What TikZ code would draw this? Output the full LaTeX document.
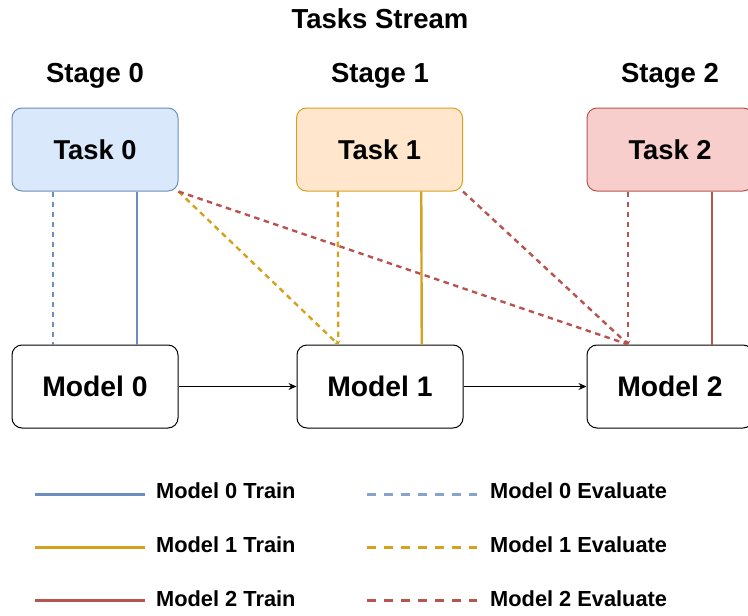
\documentclass[tikz,border=0pt]{standalone}
\usepackage{fontspec}
\setmainfont{Liberation Sans}
\usetikzlibrary{calc,arrows.meta}
\definecolor{bluefill}{HTML}{DAE8FC}
\definecolor{bluestroke}{HTML}{6C8EBF}
\definecolor{orfill}{HTML}{FFE6CC}
\definecolor{orstroke}{HTML}{D6A21E}
\definecolor{redfill}{HTML}{F8CECC}
\definecolor{redstroke}{HTML}{B85450}
\tikzset{
  box/.style={draw, rounded corners=10pt, minimum width=166pt, minimum height=83pt, line width=1pt, inner sep=0pt, font=\fontsize{27.3}{31}\selectfont\bfseries},
  title/.style={font=\fontsize{27.5}{31}\selectfont\bfseries, inner sep=0pt},
  modelbox/.style={box, fill=white, draw=black, font=\fontsize{28.3}{32}\selectfont\bfseries},
  legtext/.style={font=\fontsize{21.8}{25}\selectfont\bfseries, anchor=west, inner sep=0pt},
  train/.style={line width=2.4pt},
  evalline/.style={line width=2.4pt, dash pattern=on 5.5pt off 4.5pt},
  evalhead/.style={-{Stealth[length=4pt,width=4pt]}},
  legsolid/.style={line width=3pt},
  legdash/.style={line width=3pt, dash pattern=on 9pt off 8pt},
  flow/.style={line width=1pt, -{Stealth[length=8pt,width=7pt]}}
}
\begin{document}
\begin{tikzpicture}[x=1pt,y=-1pt]
\useasboundingbox (0,0) rectangle (748,616);
% titles
\node[title] (ts) at (380,19) {Tasks Stream};
\node[title] (s0) at (95,76) {Stage 0};
\node[title] (s1) at (380,76) {Stage 1};
\node[title] (s2) at (670,76) {Stage 2};
% tasks
\node[box, fill=bluefill, draw=bluestroke] (t0) at (95,149.5) {Task 0};
\node[box, fill=orfill, draw=orstroke] (t1) at (379.5,149.5) {Task 1};
\node[box, fill=redfill, draw=redstroke] (t2) at (670,149.5) {Task 2};
% models
\node[modelbox] (m0) at (95,386.5) {Model 0};
\node[modelbox] (m1) at (380,386.5) {Model 1};
\node[modelbox] (m2) at (670,386.5) {Model 2};
% flow arrows
\draw[flow] (m0) -- (m1);
\draw[flow] (m1) -- (m2);
% task 0
\draw[evalline, bluestroke] ($(t0.south west)!0.25!(t0.south east)$) -- ($(m0.north west)!0.25!(m0.north east)$);
\draw[train, bluestroke] ($(t0.south west)!0.75!(t0.south east)$) -- ($(m0.north west)!0.75!(m0.north east)$);
\draw[evalline, orstroke, evalhead] (t0.south east) -- ($(m1.north west)!0.25!(m1.north east)$);
\draw[evalline, redstroke, evalhead] (t0.south east) -- ($(m2.north west)!0.25!(m2.north east)$);
% task 1
\draw[evalline, orstroke, evalhead] ($(t1.south west)!0.25!(t1.south east)$) -- ($(m1.north west)!0.25!(m1.north east)$);
\draw[train, orstroke] ($(t1.south west)!0.75!(t1.south east)$) -- ($(m1.north west)!0.75!(m1.north east)$);
\draw[evalline, redstroke, evalhead] (t1.south east) -- ($(m2.north west)!0.25!(m2.north east)$);
% task 2
\draw[evalline, redstroke, evalhead] ($(t2.south west)!0.25!(t2.south east)$) -- ($(m2.north west)!0.25!(m2.north east)$);
\draw[train, redstroke] ($(t2.south west)!0.75!(t2.south east)$) -- ($(m2.north west)!0.75!(m2.north east)$);
% legend
\coordinate (a0) at (35,494); \coordinate (b0) at (145,494);
\coordinate (a1) at (35,547); \coordinate (b1) at (145,547);
\coordinate (a2) at (35,600); \coordinate (b2) at (145,600);
\coordinate (c0) at (367,494); \coordinate (d0) at (477,494);
\coordinate (c1) at (367,547); \coordinate (d1) at (477,547);
\coordinate (c2) at (367,600); \coordinate (d2) at (477,600);
\draw[legsolid, bluestroke] (a0) -- (b0);
\draw[legsolid, orstroke] (a1) -- (b1);
\draw[legsolid, redstroke] (a2) -- (b2);
\draw[legdash, bluestroke!80] (c0) -- (d0);
\draw[legdash, orstroke] (c1) -- (d1);
\draw[legdash, redstroke] (c2) -- (d2);
\node[legtext] (l0) at (156,491) {Model 0 Train};
\node[legtext] (l1) at (156,545) {Model 1 Train};
\node[legtext] (l2) at (156,599) {Model 2 Train};
\node[legtext] (e0) at (490,491) {Model 0 Evaluate};
\node[legtext] (e1) at (490,545) {Model 1 Evaluate};
\node[legtext] (e2) at (490,599) {Model 2 Evaluate};
\end{tikzpicture}
\end{document}
